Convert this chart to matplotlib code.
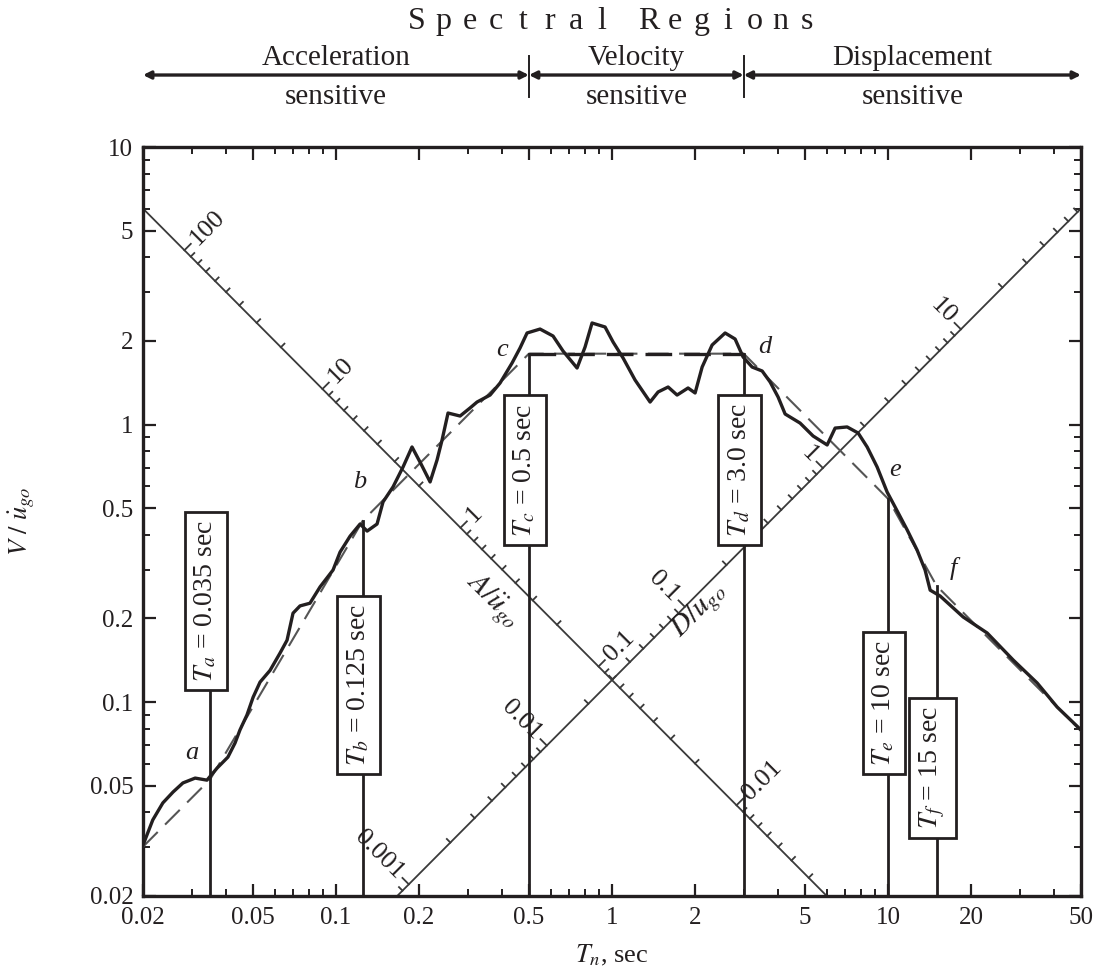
import numpy as np
import matplotlib
matplotlib.use("Agg")
import matplotlib.pyplot as plt
from matplotlib.transforms import blended_transform_factory

plt.rcParams['font.family'] = ['Liberation Serif', 'DejaVu Serif']
plt.rcParams['mathtext.fontset'] = 'stix'

INK = '#231f20'

# Pseudo-velocity response spectrum, normalised by peak ground velocity
period = [0.0200, 0.0217, 0.0236, 0.0257, 0.0279, 0.0309, 0.0341, 0.0371, 0.0406, 0.0431,
          0.0449, 0.0476, 0.0501, 0.0531, 0.0577, 0.0627, 0.0665, 0.0699, 0.0741, 0.0805,
          0.0876, 0.0976, 0.1035, 0.1125, 0.1223, 0.1297, 0.1409, 0.1481, 0.1610, 0.1750,
          0.1886, 0.2033, 0.2193, 0.2324, 0.2423, 0.2547, 0.2816, 0.3060, 0.3244, 0.3617,
          0.3931, 0.4345, 0.4644, 0.4924, 0.5487, 0.6115, 0.6647, 0.7472, 0.7987, 0.8467,
          0.9438, 1.009, 1.097, 1.212, 1.374, 1.469, 1.597, 1.721, 1.886, 2.000,
          2.121, 2.305, 2.569, 2.792, 2.985, 3.218, 3.499, 3.739, 3.997, 4.238,
          4.801, 5.352, 6.017, 6.431, 7.108, 7.791, 8.400, 9.129, 9.924, 10.61,
          11.73, 12.74, 13.62, 14.21, 15.44, 18.71, 22.86, 28.40, 34.69, 40.99, 50.0]
velocity = [0.0305, 0.0376, 0.0433, 0.0474, 0.0511, 0.0532, 0.0523, 0.0578, 0.0633, 0.0712,
            0.0793, 0.0898, 0.104, 0.118, 0.130, 0.150, 0.167, 0.209, 0.222, 0.227,
            0.260, 0.299, 0.347, 0.396, 0.438, 0.413, 0.438, 0.526, 0.596, 0.703,
            0.830, 0.721, 0.621, 0.745, 0.879, 1.100, 1.073, 1.147, 1.205, 1.277,
            1.411, 1.666, 1.887, 2.137, 2.208, 2.084, 1.840, 1.598, 1.902, 2.322,
            2.246, 1.983, 1.736, 1.447, 1.205, 1.310, 1.365, 1.277, 1.354, 1.299,
            1.611, 1.934, 2.137, 2.033, 1.751, 1.611, 1.559, 1.423, 1.256, 1.091,
            1.012, 0.909, 0.844, 0.971, 0.980, 0.932, 0.830, 0.703, 0.571, 0.504,
            0.417, 0.353, 0.299, 0.253, 0.241, 0.2025, 0.1773, 0.1417, 0.1171, 0.0959, 0.0793]

# Idealized spectrum through the corner points a-f
ideal_T = [0.02, 0.035, 0.125, 0.5, 3.0, 10.0, 15.0, 50.0]
ideal_V = [0.0301, 0.0526, 0.45, 1.8, 1.8, 0.54, 0.262, 0.0786]

corner_names = ['a', 'b', 'c', 'd', 'e', 'f']
corner_T = [0.035, 0.125, 0.5, 3.0, 10.0, 15.0]
corner_V = [0.0526, 0.45, 1.8, 1.8, 0.54, 0.262]
corner_label_T = [0.0301, 0.122, 0.400, 3.585, 10.6, 17.2]
corner_label_V = [0.0655, 0.621, 1.856, 1.90, 0.686, 0.304]

period_labels = [r'$T_a$ = 0.035 sec', r'$T_b$ = 0.125 sec', r'$T_c$ = 0.5 sec',
                 r'$T_d$ = 3.0 sec', r'$T_e$ = 10 sec', r'$T_f$ = 15 sec']
period_label_V = [0.231, 0.115, 0.685, 0.685, 0.0992, 0.0578]

# Peak ground motion used to normalise the diagonal scales
ugo_acc = 0.319 * 386.0   # in/s^2
ugo_vel = 13.04           # in/s
ugo_disp = 8.40           # in
diag_c = 0.12             # diagonal scales: V = c/T (acceleration), V = c*T (displacement)

x_ticks = [0.02, 0.05, 0.1, 0.2, 0.5, 1, 2, 5, 10, 20, 50]
x_ticklabels = ['0.02', '0.05', '0.1', '0.2', '0.5', '1', '2', '5', '10', '20', '50']
y_ticks = [0.02, 0.05, 0.1, 0.2, 0.5, 1, 2, 5, 10]
y_ticklabels = ['0.02', '0.05', '0.1', '0.2', '0.5', '1', '2', '5', '10']

acc_major = [100, 10, 1, 0.1, 0.01]
acc_major_labels = ['100', '10', '1', '0.1', '0.01']
disp_major = [0.001, 0.01, 0.1, 1, 10]
disp_major_labels = ['0.001', '0.01', '0.1', '1', '10']

regions = ['Acceleration', 'Velocity', 'Displacement']
region_bounds = [0.02, 0.5, 3.0, 50.0]

W, H = 1095, 968
fig = plt.figure(figsize=(W / 100, H / 100), dpi=100)
ax = fig.add_axes([143 / W, 72 / H, 938 / W, 749 / H])
ax.set_xscale('log')
ax.set_yscale('log')
ax.set_xlim(0.02, 50)
ax.set_ylim(0.02, 10)

px_x = 938 / np.log10(50 / 0.02)
px_y = 749 / np.log10(10 / 0.02)


def shift(T, V, dx_px, dy_px):
    return T * 10 ** (dx_px / px_x), V * 10 ** (dy_px / px_y)


# ---- diagonal tripartite scales ----
diag_kw = dict(color='#3a3a3a', lw=1.3, zorder=2)
Ta_line = np.array([0.02, diag_c / 0.02])
ax.plot(Ta_line, diag_c / Ta_line, **diag_kw)
Td_line = np.array([0.02 / diag_c, 50.0])
ax.plot(Td_line, diag_c * Td_line, **diag_kw)

decades = [10.0 ** e for e in range(-4, 3)]
tick_vals = sorted({round(m * d, 10) for d in decades for m in range(1, 10)})
s2 = np.sqrt(2)

for a in tick_vals:
    T = np.sqrt(diag_c * 2 * np.pi * ugo_vel / (a * ugo_acc))
    if not (0.0201 < T < diag_c / 0.02):
        continue
    V = diag_c / T
    L = 9 if any(np.isclose(a, m) for m in acc_major) else 5
    T2, V2 = shift(T, V, L / s2, L / s2)
    ax.plot([T, T2], [V, V2], **diag_kw)

for d in tick_vals:
    T = np.sqrt(2 * np.pi * d * ugo_disp / (diag_c * ugo_vel))
    if not (0.02 / diag_c < T < 49.9):
        continue
    V = diag_c * T
    L = 9 if any(np.isclose(d, m) for m in disp_major) else 5
    T2, V2 = shift(T, V, -L / s2, L / s2)
    ax.plot([T, T2], [V, V2], **diag_kw)

gap = 9
for a, lbl in zip(acc_major, acc_major_labels):
    T = np.sqrt(diag_c * 2 * np.pi * ugo_vel / (a * ugo_acc))
    ax.annotate(lbl, xy=(T, diag_c / T), xytext=(gap / s2, gap / s2), textcoords='offset points',
                rotation=45, rotation_mode='anchor', ha='left', va='center',
                fontsize=19, color=INK, zorder=6)
for d, lbl in zip(disp_major, disp_major_labels):
    T = np.sqrt(2 * np.pi * d * ugo_disp / (diag_c * ugo_vel))
    ax.annotate(lbl, xy=(T, diag_c * T), xytext=(-gap / s2, gap / s2), textcoords='offset points',
                rotation=-45, rotation_mode='anchor', ha='right', va='center',
                fontsize=19, color=INK, zorder=6)

ax.text(0.368, 0.231, r'$A/\ddot{u}_{go}$', rotation=-45, ha='center', va='center',
        fontsize=21, color=INK, zorder=6)
ax.text(2.08, 0.213, r'$D/u_{go}$', rotation=45, ha='center', va='center',
        fontsize=21, color=INK, zorder=6)

# ---- idealized spectrum and spectrum curve ----
ax.plot(ideal_T, ideal_V, color='#555555', lw=1.5, dashes=(10, 5), zorder=3)
ax.plot(ideal_T[3:5], ideal_V[3:5], color=INK, lw=2.4, dashes=(8.0, 3.6), zorder=3)
ax.plot(period, velocity, color=INK, lw=2.4, zorder=4, solid_joinstyle='round')

for T, V, Vb in zip(corner_T, corner_V, period_label_V):
    ax.plot([T, T], [0.02, max(V, Vb)], color=INK, lw=2.0, zorder=3)

for T, Vb, lbl in zip(corner_T, period_label_V, period_labels):
    ax.annotate(lbl, xy=(T, Vb), xytext=(-3, 0), textcoords='offset points',
                rotation=90, ha='center', va='center', fontsize=20, color=INK, zorder=7,
                bbox=dict(boxstyle='square,pad=0.3', fc='white', ec=INK, lw=2.0))

for name, T, V in zip(corner_names, corner_label_T, corner_label_V):
    ax.text(T, V, name, style='italic', fontsize=19, ha='center', va='center', color=INK, zorder=6)

# ---- axes styling ----
ax.set_xticks(x_ticks)
ax.set_xticklabels(x_ticklabels)
ax.set_yticks(y_ticks)
ax.set_yticklabels(y_ticklabels)
minor_x = [m * d for d in [0.01, 0.1, 1, 10] for m in range(2, 10)]
minor_y = [m * d for d in [0.01, 0.1, 1] for m in range(2, 10)]
ax.set_xticks([v for v in minor_x if 0.02 <= v <= 50 and v not in x_ticks], minor=True)
ax.set_yticks([v for v in minor_y if 0.02 <= v <= 10 and v not in y_ticks], minor=True)
ax.xaxis.set_minor_formatter(plt.NullFormatter())
ax.yaxis.set_minor_formatter(plt.NullFormatter())
ax.tick_params(which='both', direction='in', top=True, right=True, colors=INK, labelsize=18)
ax.tick_params(which='major', length=9, width=1.6)
ax.tick_params(which='minor', length=5, width=1.4)
ax.tick_params(axis='x', pad=8)
ax.tick_params(axis='y', pad=7)
for sp in ax.spines.values():
    sp.set_linewidth(2.4)
    sp.set_color(INK)

ax.set_xlabel(r'$T_n$, sec', fontsize=19, color=INK, va='center', ha='center')
ax.xaxis.set_label_coords(0.5, -0.079)
ax.set_ylabel(r'$V\ /\ \dot{u}_{go}$', fontsize=19, color=INK, va='center', ha='center')
ax.yaxis.set_label_coords(-0.129, 0.5)

# ---- spectral regions band above the plot ----
tr = blended_transform_factory(ax.transData, ax.transAxes)
y_arrow = 1.0961
for lo, hi in zip(region_bounds[:-1], region_bounds[1:]):
    ax.annotate('', xy=(hi, y_arrow), xytext=(lo, y_arrow), xycoords=tr, textcoords=tr,
                arrowprops=dict(arrowstyle='<|-|>', color=INK, lw=2.4, mutation_scale=11,
                                shrinkA=0, shrinkB=0), annotation_clip=False)
for b in region_bounds[1:-1]:
    ax.plot([b, b], [1.0668, 1.1215], transform=tr, color=INK, lw=1.4, clip_on=False)
for name, lo, hi in zip(regions, region_bounds[:-1], region_bounds[1:]):
    xc = np.sqrt(lo * hi)
    ax.text(xc, 1.1188, name, transform=tr, ha='center', va='center', fontsize=21, color=INK)
    ax.text(xc, 1.0668, 'sensitive', transform=tr, ha='center', va='center', fontsize=21, color=INK)

title = 'Spectral Regions'
step = 26.5 / 938
word_gap = 46 / 938
xpos = 0.5 - (13 * step + word_gap) / 2
for i, ch in enumerate(title):
    if ch == ' ':
        xpos += word_gap - step
        continue
    ax.text(xpos, 1.1682, ch, transform=ax.transAxes, ha='center', va='center',
            fontsize=23, color=INK)
    xpos += step

fig.savefig('out.png', dpi=100)
